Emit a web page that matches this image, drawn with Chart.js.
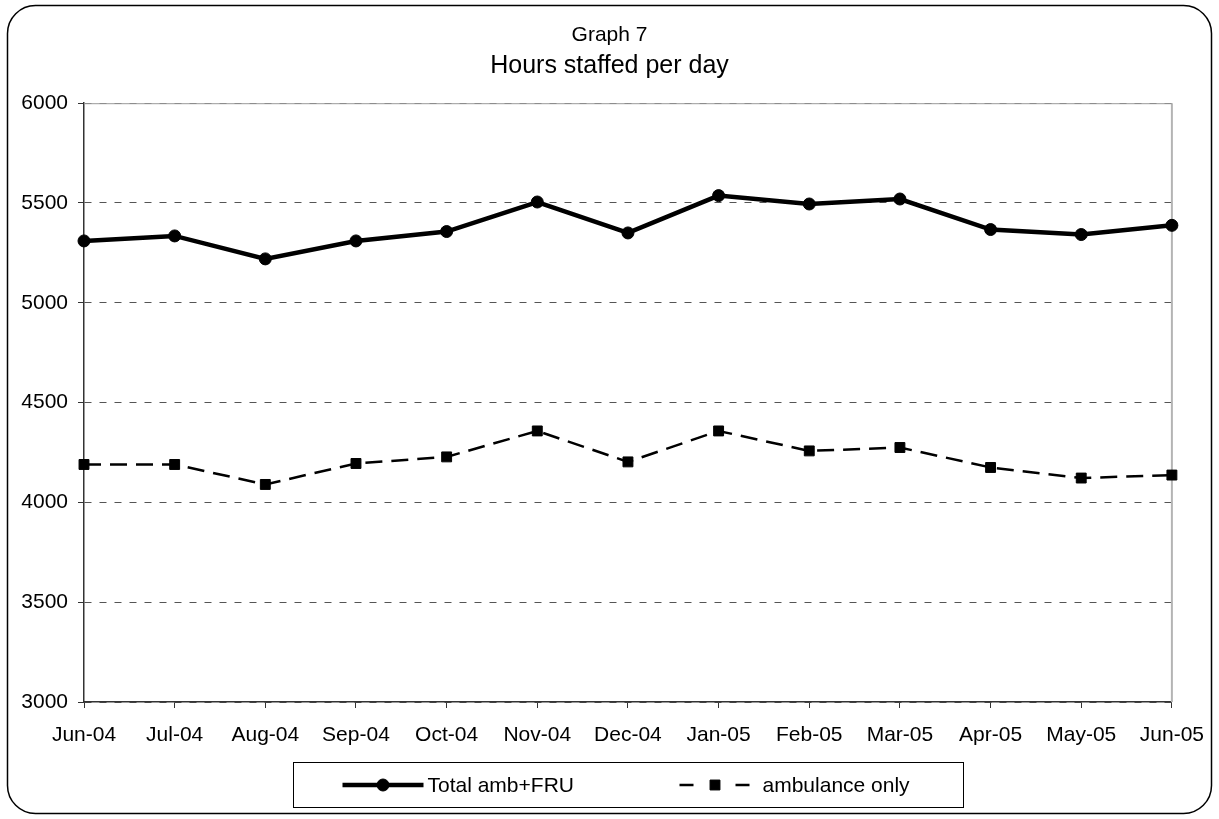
<!DOCTYPE html>
<html>
<head>
<meta charset="utf-8">
<title>Graph 7 - Hours staffed per day</title>
<script src="https://cdn.jsdelivr.net/npm/chart.js@4"></script>
<style>
  html, body { margin: 0; padding: 0; background: #fff; }
  canvas { display: block; }
</style>
</head>
<body>
<canvas id="chart" width="1219" height="819"></canvas>
<script>
const months = ["Jun-04", "Jul-04", "Aug-04", "Sep-04", "Oct-04", "Nov-04", "Dec-04",
  "Jan-05", "Feb-05", "Mar-05", "Apr-05", "May-05", "Jun-05"];
const totalAmbFru = [5310, 5335, 5220, 5310, 5357, 5505, 5350, 5537, 5495, 5520, 5367, 5342, 5388];
const ambulanceOnly = [4190, 4190, 4090, 4195, 4228, 4358, 4203, 4358, 4258, 4275, 4175, 4122, 4137];
const seriesNames = ["Total amb+FRU", "ambulance only"];

const FONT = "'Liberation Sans', Arial, sans-serif";

// white page + rounded outer frame
const framePlugin = {
  id: "frame",
  beforeDraw(chart) {
    const ctx = chart.ctx;
    ctx.save();
    ctx.fillStyle = "#fff";
    ctx.fillRect(0, 0, chart.width, chart.height);
    ctx.beginPath();
    ctx.roundRect(7.5, 5.5, 1204, 808, 28);
    ctx.lineWidth = 1.5;
    ctx.strokeStyle = "#000";
    ctx.stroke();
    ctx.restore();
  },
  beforeDatasetsDraw(chart) {
    // plot area border on top and right
    const a = chart.chartArea;
    const ctx = chart.ctx;
    ctx.save();
    ctx.strokeStyle = "#b4b4b4";
    ctx.lineWidth = 2;
    ctx.beginPath();
    ctx.moveTo(a.right, a.bottom);
    ctx.lineTo(a.right, a.top);
    ctx.stroke();
    ctx.lineWidth = 1;
    ctx.strokeStyle = "#9a9a9a";
    ctx.beginPath();
    ctx.moveTo(a.left, a.top + 0.5);
    ctx.lineTo(a.right, a.top + 0.5);
    ctx.stroke();
    ctx.restore();
  },
};

// boxed legend under the axis, line sample with marker
const boxLegendPlugin = {
  id: "boxLegend",
  afterDraw(chart) {
    const ctx = chart.ctx;
    const a = chart.chartArea;
    const boxW = 670, boxH = 45;
    const boxX = Math.round((a.left + a.right) / 2 - boxW / 2) + 0.5;
    const boxY = 762.5;
    ctx.save();
    ctx.strokeStyle = "#000";
    ctx.lineWidth = 1;
    ctx.strokeRect(boxX, boxY, boxW, boxH);

    const cy = boxY + boxH / 2;
    const items = [
      { x: boxX + 49, len: 81, gap: 4, dash: [], text: seriesNames[0] },
      { x: boxX + 386, len: 71, gap: 12, dash: [14, 42], text: seriesNames[1] },
    ];
    chart.data.datasets.forEach((ds, i) => {
      const it = items[i];
      const x0 = it.x;
      const x1 = x0 + it.len;
      ctx.save();
      ctx.strokeStyle = ds.borderColor;
      ctx.lineWidth = ds.borderWidth;
      ctx.setLineDash(it.dash);
      ctx.beginPath();
      ctx.moveTo(x0, cy);
      ctx.lineTo(x1, cy);
      ctx.stroke();
      ctx.restore();
      ctx.fillStyle = ds.pointBackgroundColor;
      ctx.strokeStyle = ds.pointBorderColor;
      Chart.helpers.drawPoint(ctx, {
        pointStyle: ds.pointStyle,
        radius: ds.pointRadius,
        borderWidth: ds.pointBorderWidth,
        rotation: 0,
      }, (x0 + x1) / 2, cy);
      ctx.fillStyle = "#000";
      ctx.font = "21px " + FONT;
      ctx.textBaseline = "middle";
      ctx.textAlign = "left";
      ctx.fillText(it.text, x1 + it.gap, cy + 1);
    });
    ctx.restore();
  },
};

new Chart(document.getElementById("chart"), {
  type: "line",
  data: {
    labels: months,
    datasets: [
      {
        label: seriesNames[0],
        data: totalAmbFru,
        borderColor: "#000",
        borderWidth: 4.5,
        pointStyle: "circle",
        pointRadius: 6,
        pointBorderWidth: 1,
        pointBackgroundColor: "#000",
        pointBorderColor: "#000",
        tension: 0,
      },
      {
        label: seriesNames[1],
        data: ambulanceOnly,
        borderColor: "#000",
        borderWidth: 2.5,
        borderDash: [17, 9],
        pointStyle: "rect",
        pointRadius: 7,
        pointBorderWidth: 1,
        pointBackgroundColor: "#000",
        pointBorderColor: "#000",
        tension: 0,
      },
    ],
  },
  options: {
    responsive: false,
    animation: false,
    layout: { padding: { left: 0, right: 0, top: 0, bottom: 67 } },
    plugins: {
      legend: { display: false },
      tooltip: { enabled: false },
      title: {
        display: true,
        text: "Graph 7",
        color: "#000",
        font: { family: FONT, size: 21, weight: "normal" },
        padding: { top: 23, bottom: 3 },
      },
      subtitle: {
        display: true,
        text: "Hours staffed per day",
        color: "#000",
        font: { family: FONT, size: 25, weight: "normal" },
        padding: { top: 0, bottom: 22 },
      },
    },
    scales: {
      x: {
        offset: false,
        grid: {
          display: true,
          drawOnChartArea: false,
          drawTicks: true,
          tickLength: 6,
          color: "#333",
        },
        border: { display: true, color: "#333", width: 1.5 },
        ticks: {
          color: "#000",
          font: { family: FONT, size: 21 },
          padding: 15,
          maxRotation: 0,
          autoSkip: false,
        },
        afterFit(scale) { scale.height = 50; },
      },
      y: {
        min: 3000,
        max: 6000,
        grid: {
          color: "#555",
          lineWidth: 1,
          tickLength: 6,
          tickColor: "#333",
          tickBorderDash: [],
        },
        border: { display: true, color: "#333", width: 1.5, dash: [7, 8] },
        ticks: {
          stepSize: 500,
          color: "#000",
          font: { family: FONT, size: 21 },
          padding: 10,
          callback: (v) => String(v),
        },
        afterFit(scale) { scale.width = 84; },
      },
      // empty right-hand margin so the titles stay centred on the page
      yRight: {
        position: "right",
        display: true,
        grid: { display: false },
        border: { display: false },
        ticks: { display: false },
        afterFit(scale) { scale.width = 46; },
      },
    },
  },
  plugins: [framePlugin, boxLegendPlugin],
});
</script>
</body>
</html>
